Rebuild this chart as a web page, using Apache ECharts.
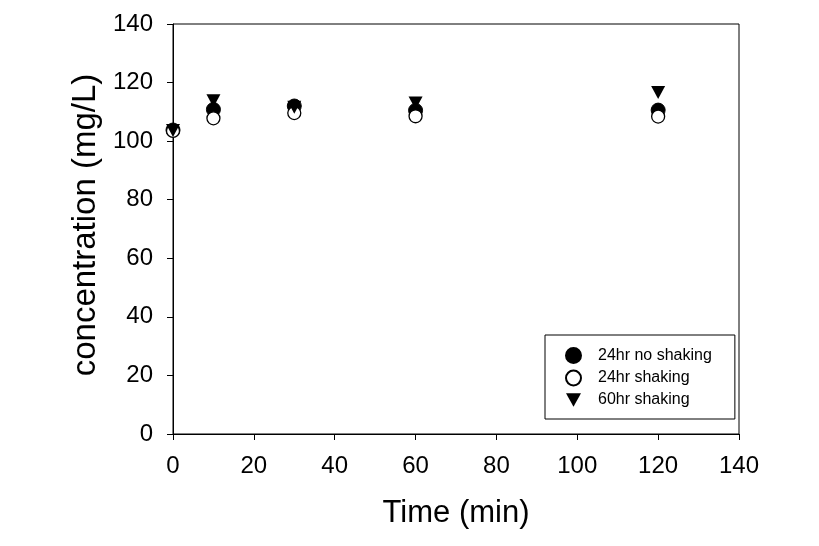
<!DOCTYPE html>
<html><head><meta charset="utf-8">
<script src="https://cdn.jsdelivr.net/npm/echarts@6/dist/echarts.min.js"></script>
<style>html,body{margin:0;padding:0;background:#fff}#c{width:819px;height:546px}</style>
</head><body><div id="c"></div>
<script>
const times = [0, 10, 30, 60, 120];
const noShaking24 = [103.8, 110.8, 112.0, 110.5, 110.6];
const shaking24 = [103.5, 107.8, 109.6, 108.5, 108.4];
const shaking60 = [103.6, 113.8, 111.6, 113.0, 116.6];
const seriesNames = ['24hr no shaking', '24hr shaking', '60hr shaking'];

const pairs = v => times.map((t, i) => [t, v[i]]);
const chart = echarts.init(document.getElementById('c'));
const font = 'Liberation Sans, Arial, sans-serif';
const downTri = 'path://M0,0L20,0L10,18Z';
chart.setOption({
  animation: false,
  grid: {left: 173, right: 80, top: 24, bottom: 112, show: true, borderColor: '#000', borderWidth: 1, backgroundColor: 'transparent'},
  xAxis: {
    type: 'value', min: 0, max: 140, interval: 20,
    name: 'Time (min)', nameLocation: 'middle', nameGap: 64,
    nameTextStyle: {fontFamily: font, fontSize: 31, color: '#000'},
    axisLine: {lineStyle: {color: '#000', width: 1}},
    axisTick: {show: true, length: 6, lineStyle: {color: '#000'}},
    axisLabel: {fontFamily: font, fontSize: 24, color: '#000', margin: 20},
    splitLine: {show: false}
  },
  yAxis: {
    type: 'value', min: 0, max: 140, interval: 20,
    name: 'concentration (mg/L)', nameLocation: 'middle', nameGap: 70,
    nameTextStyle: {fontFamily: font, fontSize: 33, color: '#000', padding: [0, 0, 0, 8]},
    axisLine: {show: true, lineStyle: {color: '#000', width: 1}},
    axisTick: {show: true, length: 6, lineStyle: {color: '#000'}},
    axisLabel: {fontFamily: font, fontSize: 24, color: '#000', margin: 20},
    splitLine: {show: false}
  },
  legend: {
    orient: 'vertical', left: 545, top: 335,
    padding: [12, 23, 11, 20],
    borderColor: '#000', borderWidth: 1,
    itemWidth: 15, itemHeight: 15, itemGap: 5.5,
    textStyle: {fontFamily: font, fontSize: 16, color: '#000', padding: [0, 0, 0, 12]},
    data: seriesNames
  },
  series: [
    {name: seriesNames[0], type: 'scatter', data: pairs(noShaking24), symbol: 'circle', symbolSize: 14,
     itemStyle: {color: '#000', borderColor: '#000', borderWidth: 1, opacity: 1}, z: 2},
    {name: seriesNames[1], type: 'scatter', data: pairs(shaking24), symbol: 'circle', symbolSize: 13,
     itemStyle: {color: '#fff', borderColor: '#000', borderWidth: 1.3, opacity: 1}, z: 3},
    {name: seriesNames[2], type: 'scatter', data: pairs(shaking60), symbol: downTri, symbolSize: [14, 13],
     itemStyle: {color: '#000', borderColor: '#000', borderWidth: 0, opacity: 1}, z: 4}
  ]
});
</script></body></html>
